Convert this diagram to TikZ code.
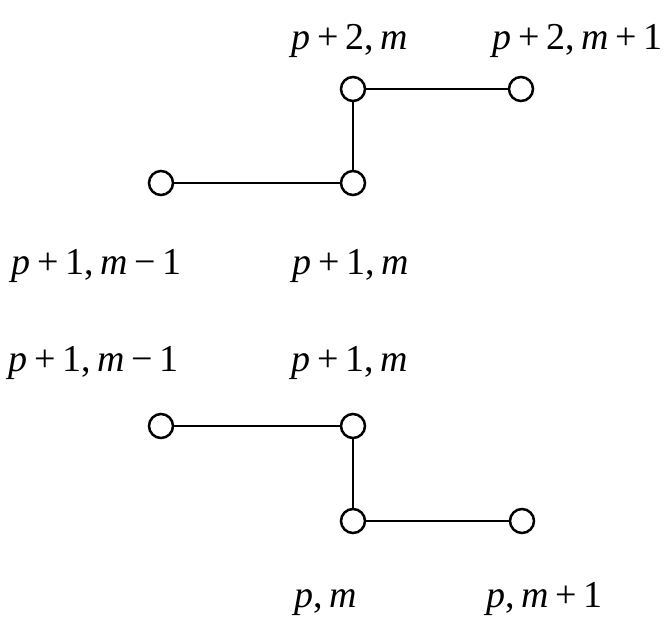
\documentclass[tikz,border=0pt]{standalone}
\usepackage{fontspec}
\setmainfont{Liberation Serif}
\newfontfamily\libser{Liberation Serif}
\tikzset{
  vtx/.style={circle,draw,line width=2.5pt,fill=white,minimum size=24pt,inner sep=0pt},
  lnk/.style={line width=2.5pt},
  lab/.style={anchor=base west,inner sep=0pt,font=\fontsize{38}{42}\selectfont}
}
\newcommand{\opsp}{\hspace{0.18em}}
\begin{document}
\begin{tikzpicture}[x=1pt,y=-1pt]
\useasboundingbox (0,0) rectangle (672,617);
% labels
\node[lab] (la1) at (291,50) {\libser\itshape p\upshape\opsp+\opsp2,\,\itshape m};
\node[lab] (la2) at (492,50) {\libser\itshape p\upshape\opsp+\opsp2,\,\itshape m\upshape\opsp+\opsp1};
\node[lab] (la4) at (11,275) {\libser\itshape p\upshape\opsp+\opsp1,\,\itshape m\upshape\opsp−\opsp1};
\node[lab] (la3) at (292,275) {\libser\itshape p\upshape\opsp+\opsp1,\,\itshape m};
\node[lab] (lb1) at (8,372) {\libser\itshape p\upshape\opsp+\opsp1,\,\itshape m\upshape\opsp−\opsp1};
\node[lab] (lb2) at (291,372) {\libser\itshape p\upshape\opsp+\opsp1,\,\itshape m};
\node[lab] (lb3) at (294,607) {\libser\itshape p\upshape,\,\itshape m};
\node[lab] (lb4) at (486,607) {\libser\itshape p\upshape,\,\itshape m\upshape\opsp+\opsp1};
% top diagram
\node[vtx] (a1) at (353,89) {};
\node[vtx] (a2) at (521,89) {};
\node[vtx] (a3) at (353,183) {};
\node[vtx] (a4) at (161,183) {};
\draw[lnk] (a1) -- (a2);
\draw[lnk] (a1) -- (a3);
\draw[lnk] (a4) -- (a3);
% bottom diagram
\node[vtx] (b1) at (161,426) {};
\node[vtx] (b2) at (353,426) {};
\node[vtx] (b3) at (353,521) {};
\node[vtx] (b4) at (522,521) {};
\draw[lnk] (b1) -- (b2);
\draw[lnk] (b2) -- (b3);
\draw[lnk] (b3) -- (b4);
\end{tikzpicture}
\end{document}
